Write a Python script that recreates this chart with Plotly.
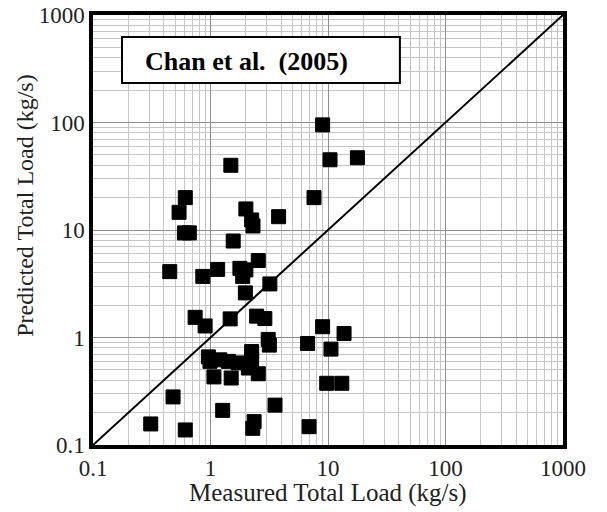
import plotly.graph_objects as go

# Measured vs predicted total load (kg/s)
measured = [9.0, 10.4, 17.8, 1.49, 7.6, 0.61, 0.54, 0.60, 0.66, 2.0, 2.24, 2.3, 3.8, 1.56,
            0.45, 0.86, 1.15, 1.78, 2.0, 1.88, 2.55, 1.98, 3.2,
            0.74, 0.90, 1.47, 2.47, 2.9, 3.1, 3.17,
            0.96, 0.99, 1.2, 1.42, 1.72, 2.24, 2.24, 2.1, 2.55,
            1.07, 1.5, 0.48, 1.27, 3.54, 0.31, 0.61, 2.35, 2.29,
            9.0, 13.7, 6.7, 10.6, 9.75, 13.1, 6.9]
predicted = [95, 45, 47, 40, 20, 20, 14.6, 9.4, 9.4, 15.7, 12.4, 10.9, 13.3, 7.9,
             4.1, 3.7, 4.3, 4.4, 4.25, 3.7, 5.2, 2.6, 3.15,
             1.54, 1.28, 1.49, 1.58, 1.5, 0.96, 0.85,
             0.66, 0.60, 0.62, 0.60, 0.58, 0.74, 0.62, 0.52, 0.46,
             0.43, 0.42, 0.28, 0.21, 0.235, 0.157, 0.138, 0.165, 0.143,
             1.26, 1.09, 0.88, 0.78, 0.375, 0.375, 0.148]

line_x = [0.1, 1000]
line_y = [0.1, 1000]

tick_vals = [0.1, 1, 10, 100, 1000]
tick_text = ["0.1", "1", "10", "100", "1000"]
minor_vals = [k * 10.0 ** e for e in range(-1, 3) for k in range(2, 10)]

FONT = "Liberation Serif"

fig = go.Figure()
fig.add_trace(go.Scatter(x=line_x, y=line_y, mode="lines",
                         line=dict(color="black", width=2), showlegend=False,
                         hoverinfo="skip"))
fig.add_trace(go.Scatter(x=measured, y=predicted, mode="markers",
                         marker=dict(symbol="square", size=14, color="black",
                                     line=dict(color="black", width=1)),
                         showlegend=False))

axis_common = dict(
    type="log", range=[-1, 3], tickvals=tick_vals, ticktext=tick_text,
    showgrid=True, gridcolor="#8f8f8f", gridwidth=1.3,
    minor=dict(tickvals=minor_vals, showgrid=True, gridcolor="#c6c6c6", gridwidth=1.3),
    showline=True, linecolor="black", linewidth=3.5, mirror=True,
    ticks="", zeroline=False, automargin=False, ticklabeloverflow="allow",
    tickfont=dict(family=FONT, size=23, color="#222222"),
)

fig.update_layout(
    width=607, height=512,
    margin=dict(l=93, r=44, t=15, b=67),
    paper_bgcolor="white", plot_bgcolor="white",
    xaxis=dict(**axis_common),
    yaxis=dict(**axis_common),
    annotations=[
        dict(text="Predicted Total Load (kg/s)", textangle=-90,
             xref="paper", yref="paper", x=-0.145, y=0.556,
             xanchor="center", yanchor="middle", showarrow=False,
             font=dict(family=FONT, size=24, color="#222222")),
        dict(text="Measured Total Load (kg/s)",
             xref="paper", yref="paper", x=0.5, y=-0.112,
             xanchor="center", yanchor="middle", showarrow=False,
             font=dict(family=FONT, size=25, color="#222222")),
        dict(text="<b>Chan et al.  (2005)</b>",
             xref="paper", yref="paper", x=0.106, y=0.891,
             xanchor="left", yanchor="middle", showarrow=False,
             font=dict(family=FONT, size=26, color="black")),
    ],
    shapes=[
        dict(type="rect", xref="paper", yref="paper",
             x0=0.0617, x1=0.653, y0=0.842, y1=0.949,
             line=dict(color="black", width=2), fillcolor="white", layer="above"),
    ],
)

# remove the default page margin so the figure fills the window exactly
fig.write_html("out.html",
               config={"displayModeBar": False},
               post_script="document.body.style.margin='0';document.body.style.overflow='hidden';")
